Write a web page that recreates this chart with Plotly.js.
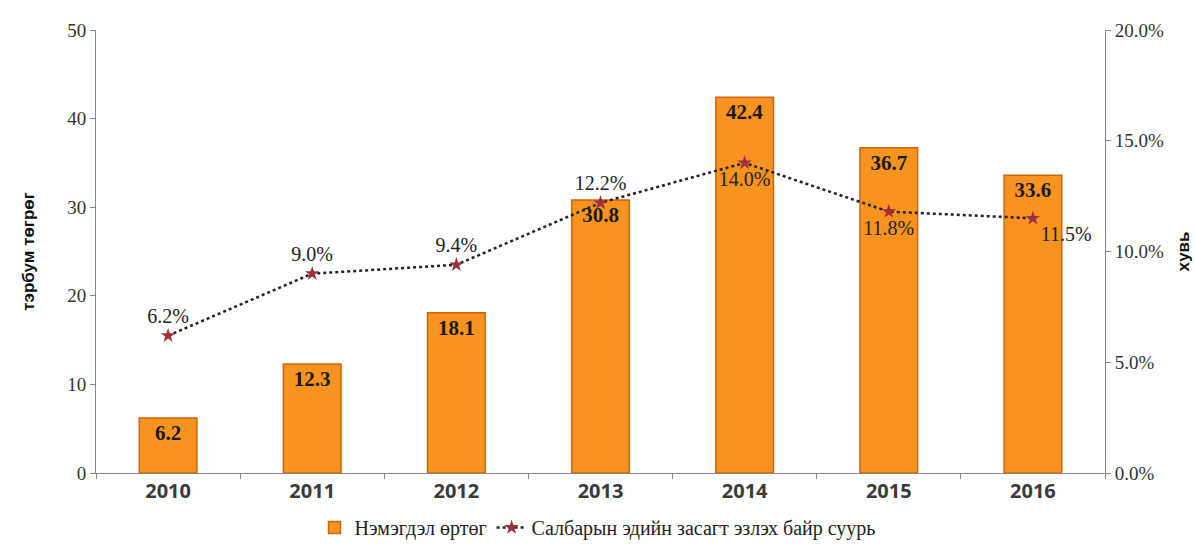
<!DOCTYPE html>
<html><head><meta charset="utf-8">
<script src="https://cdn.plot.ly/plotly-3.0.1.min.js"></script>
<style>body{margin:0;background:#fff}#c{width:1195px;height:547px}</style>
</head><body><div id="c"></div>
<script>
const years = ['2010','2011','2012','2013','2014','2015','2016'];
const valueAdded = [6.2, 12.3, 18.1, 30.8, 42.4, 36.7, 33.6];
const sharePct = [0.062, 0.090, 0.094, 0.122, 0.140, 0.118, 0.115];
const shareLabels = ['6.2%','9.0%','9.4%','12.2%','14.0%','11.8%','11.5%'];
const shareLabelPos = ['top center','top center','top center','top center','bottom center','bottom center','bottom right'];
const barName = 'Нэмэгдэл өртөг';
const lineName = 'Салбарын эдийн засагт эзлэх байр суурь';

const serif = 'Liberation Serif, Times New Roman, serif';
const traces = [
  {type:'bar', x:years, y:valueAdded, name:barName, width:0.4,
   marker:{color:'#F7931E', line:{color:'#C9670C', width:1.5}},
   text:valueAdded.map(v=>'<b>'+v.toFixed(1)+'</b>'), textposition:'inside', insidetextanchor:'end',
   textfont:{family:serif, size:21, color:'#1a1a1a'}, cliponaxis:false},
  {type:'scatter', mode:'lines+markers+text', x:years, y:sharePct, yaxis:'y2', name:lineName,
   line:{color:'#222', width:2.5, dash:'dot'},
   marker:{symbol:'star', size:11, color:'#9E2F3C'},
   text:shareLabels, textposition:shareLabelPos,
   textfont:{family:serif, size:20, color:'#222'}, cliponaxis:false}
];
const layout = {
  width:1195, height:547,
  margin:{l:96, r:90, t:30, b:74},
  paper_bgcolor:'#fff', plot_bgcolor:'#fff',
  showlegend:true,
  legend:{orientation:'h', x:0.5, xanchor:'center', xref:'container', yref:'container', y:-0.012, yanchor:'bottom',
    font:{family:serif, size:20, color:'#222'}},
  xaxis:{type:'category', showline:true, linecolor:'#888', linewidth:1, automargin:false,
    ticks:'outside', tickson:'boundaries', ticklen:5, tickcolor:'#888',
    tickfont:{family:'Open Sans, sans-serif', size:20, color:'#3a3a3a', weight:'bold'},
    showgrid:false, zeroline:false},
  yaxis:{range:[0,50], dtick:10, showline:true, linecolor:'#888', linewidth:1, automargin:false,
    ticks:'outside', ticklen:5, tickcolor:'#888', showgrid:false, zeroline:false,
    tickfont:{family:serif, size:19, color:'#333'},
    title:{text:'<b>тэрбум төгрөг</b>', standoff:28, font:{family:'Liberation Sans, Arial, sans-serif', size:17, color:'#111'}}},
  yaxis2:{overlaying:'y', side:'right', range:[0,0.2], dtick:0.05, tickformat:'.1%', automargin:false,
    showline:true, linecolor:'#888', linewidth:1, ticks:'outside', ticklen:5, tickcolor:'#888',
    showgrid:false, zeroline:false,
    tickfont:{family:serif, size:19, color:'#333'},
    title:{text:'<b>хувь</b>', standoff:14, font:{family:'Liberation Sans, Arial, sans-serif', size:17, color:'#111'}}}
};
Plotly.newPlot('c', traces, layout, {displayModeBar:false});
</script></body></html>
